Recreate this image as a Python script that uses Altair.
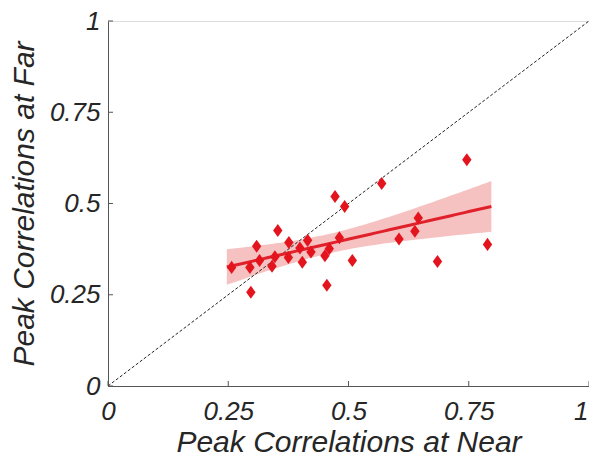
import altair as alt
import numpy as np
import pandas as pd

# Peak correlations
near = [0.257, 0.297, 0.295, 0.309, 0.315, 0.341, 0.347, 0.353, 0.375, 0.376,
        0.399, 0.404, 0.415, 0.422, 0.451, 0.455, 0.460, 0.472, 0.481, 0.492,
        0.508, 0.569, 0.605, 0.638, 0.645, 0.685, 0.746, 0.789]
far = [0.325, 0.257, 0.325, 0.383, 0.344, 0.328, 0.354, 0.426, 0.352, 0.393,
       0.378, 0.339, 0.399, 0.367, 0.357, 0.276, 0.376, 0.519, 0.406, 0.492,
       0.344, 0.555, 0.403, 0.424, 0.460, 0.341, 0.620, 0.388]
tick_values = [0, 0.25, 0.5, 0.75, 1]

pts = pd.DataFrame({"near": near, "far": far})

# least-squares fit with 95% confidence band of the fitted line
x = np.array(near)
y = np.array(far)
n = len(x)
b1, b0 = np.polyfit(x, y, 1)
resid = y - (b0 + b1 * x)
s = np.sqrt(np.sum(resid ** 2) / (n - 2))
sxx = np.sum((x - x.mean()) ** 2)
t_crit = 2.056
xs = np.linspace(x.min() - 0.01, x.max() + 0.008, 60)
fit = b0 + b1 * xs
half = t_crit * s * np.sqrt(1.0 / n + (xs - x.mean()) ** 2 / sxx)
fitdf = pd.DataFrame({"near": xs, "fit": fit, "lo": fit - half, "hi": fit + half})

diag = pd.DataFrame({"near": [0, 1], "far": [0, 1]})
ticks = pd.DataFrame({"v": tick_values})

W, H = 481, 365
FONT = "Liberation Sans"
TXT = "#262626"
xscale = alt.Scale(domain=[0, 1], nice=False)
yscale = alt.Scale(domain=[0, 1], nice=False)

xaxis = alt.Axis(values=tick_values, title="Peak Correlations at Near", grid=False,
                 ticks=False, domain=True, domainColor="#555555", domainWidth=1,
                 labelFont=FONT, labelFontStyle="italic", labelFontSize=26,
                 labelColor=TXT, labelPadding=12, labelFlush=False,
                 labelAlign={"condition": {"test": "datum.value == 1", "value": "right"},
                             "value": "center"},
                 labelOffset={"condition": {"test": "datum.value == 1", "value": -1},
                              "value": 0},
                 labelExpr="format(datum.value, '~g')",
                 titleFont=FONT, titleFontStyle="italic", titleFontSize=30,
                 titleFontWeight="normal", titleColor=TXT, titlePadding=3)
yaxis = alt.Axis(values=tick_values, title="Peak Correlations at Far", grid=False,
                 ticks=False, domain=True, domainColor="#555555", domainWidth=1,
                 labelFont=FONT, labelFontStyle="italic", labelFontSize=26,
                 labelColor=TXT, labelPadding=8, labelFlush=False,
                 labelExpr="format(datum.value, '~g')",
                 titleFont=FONT, titleFontStyle="italic", titleFontSize=30,
                 titleFontWeight="normal", titleColor=TXT, titlePadding=10)

band = alt.Chart(fitdf).mark_area(color="#F5BABA", opacity=0.9).encode(
    x=alt.X("near:Q", scale=xscale, axis=xaxis),
    y=alt.Y("lo:Q", scale=yscale, axis=yaxis),
    y2="hi:Q",
)

diag_line = alt.Chart(diag).mark_line(color="#222222", strokeWidth=1,
                                      strokeDash=[3, 2]).encode(
    x=alt.X("near:Q", scale=xscale),
    y=alt.Y("far:Q", scale=yscale),
)

fit_line = alt.Chart(fitdf).mark_line(color="#E0202A", strokeWidth=3).encode(
    x=alt.X("near:Q", scale=xscale),
    y=alt.Y("fit:Q", scale=yscale),
)

points = alt.Chart(pts).mark_point(
    shape="M0,-1L0.72,0L0,1L-0.72,0Z", filled=True, color="#E3141E",
    opacity=1, size=170, strokeWidth=0,
).encode(
    x=alt.X("near:Q", scale=xscale),
    y=alt.Y("far:Q", scale=yscale),
)

xticks = alt.Chart(ticks).mark_rule(color="#555555", strokeWidth=1).encode(
    x=alt.X("v:Q", scale=xscale),
    y=alt.value(H),
    y2=alt.value(H - 5),
)
yticks = alt.Chart(ticks).mark_rule(color="#555555", strokeWidth=1).encode(
    y=alt.Y("v:Q", scale=yscale),
    x=alt.value(0),
    x2=alt.value(5),
)

chart = alt.layer(band, diag_line, fit_line, points, xticks, yticks).properties(
    width=W, height=H,
    autosize=alt.AutoSizeParams(type="none"),
    padding={"left": 100, "top": 13, "right": 0, "bottom": 72},
).configure_view(stroke=None).configure(background="white")

chart.save("out.html", embed_options={"renderer": "svg", "actions": False})
